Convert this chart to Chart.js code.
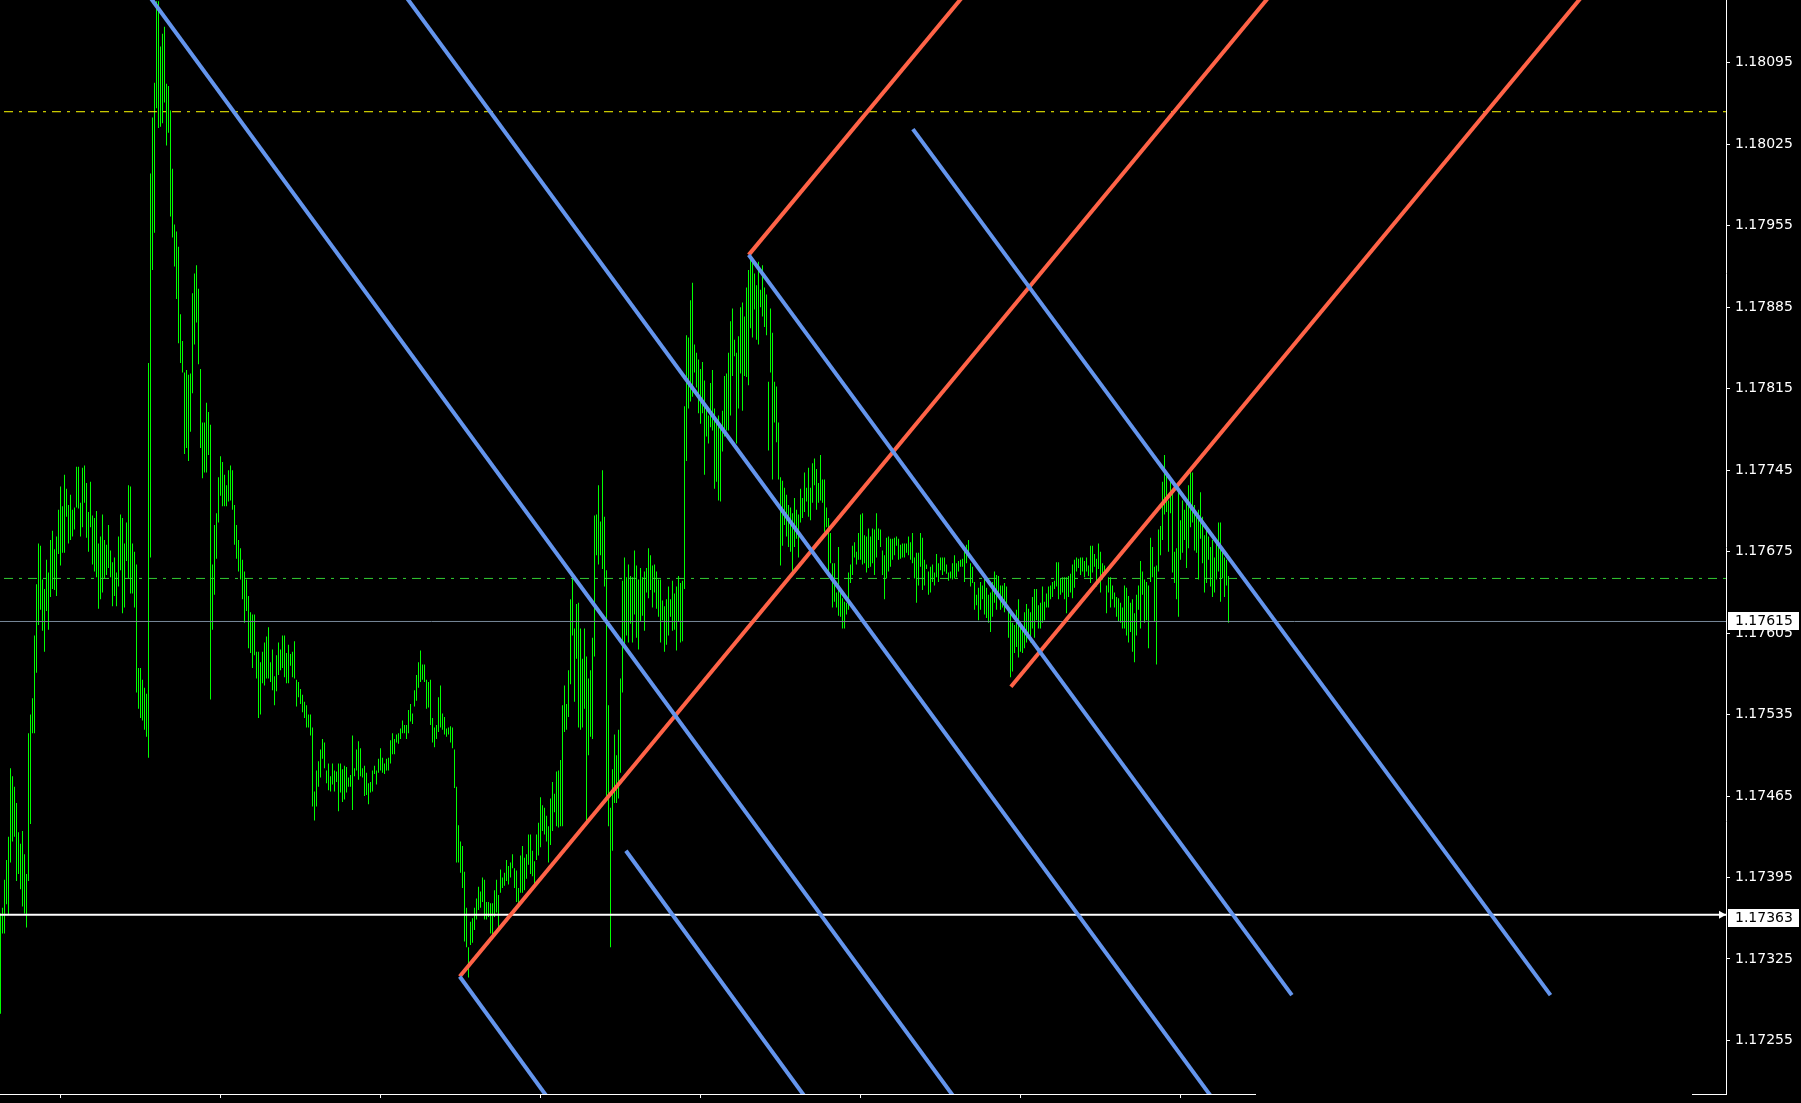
<!DOCTYPE html>
<html>
<head>
<meta charset="utf-8">
<title>EURUSD M5</title>
<script src="https://cdn.jsdelivr.net/npm/chart.js@4.4.1/dist/chart.umd.min.js"></script>
<style>
html,body{margin:0;padding:0;background:#000;overflow:hidden;}
canvas{display:block;}
</style>
</head>
<body>
<canvas id="chart" width="1801" height="1103"></canvas>
<script>
// ---------------- data ----------------
const highs = [
1.17364,1.17369,1.17393,1.17410,1.17430,1.17489,1.17482,1.17473,1.17459,1.17434,
1.17424,1.17435,1.17415,1.17398,1.17519,1.17535,1.17549,1.17603,1.17647,1.17682,
1.17680,1.17651,1.17643,1.17668,1.17657,1.17685,1.17693,1.17677,1.17688,1.17711,
1.17731,1.17714,1.17741,1.17729,1.17715,1.17724,1.17711,1.17713,1.17748,1.17748,
1.17717,1.17747,1.17749,1.17734,1.17709,1.17735,1.17706,1.17704,1.17710,1.17682,
1.17688,1.17707,1.17685,1.17681,1.17698,1.17676,1.17666,1.17670,1.17657,1.17688,
1.17707,1.17704,1.17682,1.17700,1.17732,1.17731,1.17682,1.17675,1.17664,1.17575,
1.17575,1.17565,1.17558,1.17553,1.17837,1.18000,1.18048,1.18078,1.18148,1.18148,
1.18109,1.18120,1.18126,1.18077,1.18075,1.18054,1.18004,1.17956,1.17950,1.17937,
1.17879,1.17856,1.17829,1.17831,1.17827,1.17828,1.17897,1.17914,1.17921,1.17901,
1.17832,1.17786,1.17786,1.17803,1.17795,1.17784,1.17664,1.17698,1.17708,1.17739,
1.17757,1.17752,1.17741,1.17732,1.17745,1.17749,1.17745,1.17715,1.17698,1.17685,
1.17678,1.17668,1.17658,1.17651,1.17637,1.17623,1.17621,1.17621,1.17589,1.17589,
1.17580,1.17589,1.17597,1.17602,1.17610,1.17580,1.17591,1.17568,1.17586,1.17597,
1.17591,1.17603,1.17603,1.17588,1.17595,1.17587,1.17589,1.17598,1.17565,1.17563,
1.17557,1.17552,1.17546,1.17543,1.17535,1.17535,1.17524,1.17469,1.17487,1.17495,
1.17505,1.17514,1.17511,1.17487,1.17493,1.17482,1.17493,1.17487,1.17486,1.17493,
1.17493,1.17488,1.17491,1.17490,1.17481,1.17483,1.17517,1.17489,1.17505,1.17512,
1.17506,1.17489,1.17491,1.17485,1.17476,1.17477,1.17487,1.17491,1.17487,1.17497,
1.17506,1.17498,1.17493,1.17497,1.17498,1.17513,1.17519,1.17514,1.17518,1.17519,
1.17523,1.17530,1.17526,1.17526,1.17539,1.17544,1.17536,1.17556,1.17569,1.17580,
1.17590,1.17578,1.17578,1.17565,1.17563,1.17565,1.17532,1.17524,1.17526,1.17550,
1.17560,1.17536,1.17533,1.17523,1.17524,1.17525,1.17524,1.17505,1.17473,1.17440,
1.17426,1.17422,1.17400,1.17369,1.17335,1.17357,1.17360,1.17369,1.17377,1.17387,
1.17383,1.17395,1.17393,1.17374,1.17374,1.17373,1.17373,1.17384,1.17393,1.17380,
1.17402,1.17395,1.17399,1.17410,1.17405,1.17408,1.17415,1.17403,1.17401,1.17386,
1.17414,1.17422,1.17412,1.17415,1.17432,1.17432,1.17418,1.17409,1.17432,1.17442,
1.17464,1.17457,1.17455,1.17448,1.17439,1.17463,1.17477,1.17467,1.17486,1.17487,
1.17496,1.17543,1.17560,1.17544,1.17573,1.17634,1.17652,1.17609,1.17630,1.17631,
1.17609,1.17583,1.17609,1.17585,1.17566,1.17573,1.17601,1.17706,1.17707,1.17732,
1.17701,1.17745,1.17705,1.17659,1.17543,1.17455,1.17488,1.17518,1.17500,1.17522,
1.17566,1.17650,1.17670,1.17653,1.17664,1.17654,1.17653,1.17676,1.17663,1.17651,
1.17661,1.17653,1.17658,1.17661,1.17678,1.17672,1.17663,1.17664,1.17658,1.17651,
1.17651,1.17633,1.17628,1.17634,1.17645,1.17634,1.17650,1.17639,1.17645,1.17654,
1.17648,1.17650,1.17800,1.17861,1.17859,1.17891,1.17906,1.17853,1.17846,1.17840,
1.17832,1.17838,1.17822,1.17800,1.17792,1.17820,1.17831,1.17798,1.17786,1.17792,
1.17785,1.17796,1.17826,1.17828,1.17846,1.17873,1.17884,1.17857,1.17846,1.17860,
1.17885,1.17889,1.17877,1.17902,1.17917,1.17927,1.17924,1.17914,1.17904,1.17924,
1.17900,1.17921,1.17902,1.17896,1.17821,1.17884,1.17863,1.17821,1.17817,1.17786,
1.17739,1.17736,1.17730,1.17724,1.17715,1.17713,1.17708,1.17721,1.17711,1.17707,
1.17729,1.17721,1.17743,1.17730,1.17747,1.17730,1.17751,1.17755,1.17746,1.17734,
1.17758,1.17737,1.17737,1.17713,1.17704,1.17691,1.17665,1.17665,1.17640,1.17679,
1.17640,1.17635,1.17632,1.17631,1.17657,1.17664,1.17680,1.17683,1.17675,1.17691,
1.17707,1.17708,1.17689,1.17688,1.17695,1.17688,1.17695,1.17694,1.17708,1.17695,
1.17694,1.17676,1.17672,1.17687,1.17688,1.17686,1.17686,1.17687,1.17688,1.17686,
1.17681,1.17682,1.17682,1.17682,1.17688,1.17683,1.17691,1.17670,1.17674,1.17674,
1.17691,1.17687,1.17668,1.17664,1.17658,1.17662,1.17664,1.17657,1.17673,1.17665,
1.17670,1.17670,1.17670,1.17664,1.17657,1.17658,1.17665,1.17672,1.17665,1.17667,
1.17668,1.17669,1.17677,1.17681,1.17685,1.17665,1.17662,1.17649,1.17638,1.17644,
1.17649,1.17646,1.17652,1.17644,1.17638,1.17640,1.17649,1.17658,1.17655,1.17654,
1.17646,1.17646,1.17648,1.17645,1.17627,1.17622,1.17614,1.17612,1.17625,1.17634,
1.17615,1.17609,1.17623,1.17630,1.17626,1.17623,1.17636,1.17643,1.17643,1.17629,
1.17631,1.17645,1.17632,1.17639,1.17645,1.17646,1.17649,1.17650,1.17666,1.17666,
1.17652,1.17653,1.17653,1.17653,1.17654,1.17656,1.17664,1.17668,1.17670,1.17669,
1.17670,1.17670,1.17667,1.17670,1.17663,1.17680,1.17680,1.17673,1.17669,1.17682,
1.17675,1.17665,1.17663,1.17646,1.17653,1.17653,1.17646,1.17640,1.17636,1.17635,
1.17631,1.17627,1.17646,1.17644,1.17637,1.17631,1.17634,1.17622,1.17638,1.17646,
1.17667,1.17658,1.17651,1.17649,1.17646,1.17687,1.17679,1.17662,1.17663,1.17694,
1.17697,1.17735,1.17758,1.17743,1.17719,1.17735,1.17728,1.17675,1.17678,1.17728,
1.17702,1.17719,1.17711,1.17717,1.17732,1.17745,1.17743,1.17715,1.17707,1.17711,
1.17726,1.17705,1.17689,1.17694,1.17688,1.17679,1.17685,1.17670,1.17682,1.17700,
1.17700,1.17676,1.17670,1.17668,1.17654
];
const lows = [
1.17278,1.17347,1.17347,1.17372,1.17363,1.17408,1.17426,1.17430,1.17392,1.17398,
1.17385,1.17370,1.17364,1.17352,1.17392,1.17441,1.17519,1.17519,1.17571,1.17612,
1.17625,1.17607,1.17589,1.17624,1.17608,1.17636,1.17643,1.17642,1.17637,1.17673,
1.17663,1.17674,1.17674,1.17705,1.17682,1.17685,1.17688,1.17694,1.17713,1.17712,
1.17688,1.17696,1.17717,1.17687,1.17675,1.17696,1.17664,1.17658,1.17653,1.17626,
1.17634,1.17640,1.17652,1.17655,1.17661,1.17653,1.17628,1.17637,1.17628,1.17645,
1.17659,1.17622,1.17627,1.17667,1.17652,1.17639,1.17639,1.17627,1.17554,1.17540,
1.17532,1.17530,1.17522,1.17516,1.17498,1.17670,1.17917,1.17949,1.18056,1.18039,
1.18040,1.18043,1.18061,1.18024,1.18035,1.17963,1.17945,1.17920,1.17892,1.17854,
1.17837,1.17829,1.17759,1.17764,1.17753,1.17778,1.17811,1.17853,1.17872,1.17836,
1.17764,1.17738,1.17743,1.17743,1.17758,1.17548,1.17608,1.17638,1.17669,1.17700,
1.17723,1.17714,1.17714,1.17714,1.17718,1.17719,1.17711,1.17681,1.17669,1.17658,
1.17651,1.17634,1.17614,1.17624,1.17592,1.17588,1.17575,1.17586,1.17566,1.17532,
1.17535,1.17562,1.17560,1.17566,1.17566,1.17563,1.17556,1.17543,1.17555,1.17569,
1.17573,1.17575,1.17567,1.17562,1.17562,1.17577,1.17567,1.17566,1.17542,1.17550,
1.17544,1.17537,1.17532,1.17524,1.17524,1.17517,1.17456,1.17444,1.17456,1.17473,
1.17481,1.17497,1.17489,1.17476,1.17470,1.17469,1.17475,1.17469,1.17477,1.17452,
1.17468,1.17460,1.17462,1.17468,1.17473,1.17473,1.17453,1.17482,1.17487,1.17479,
1.17482,1.17481,1.17465,1.17466,1.17458,1.17468,1.17469,1.17484,1.17475,1.17485,
1.17487,1.17485,1.17484,1.17487,1.17487,1.17493,1.17501,1.17501,1.17511,1.17510,
1.17514,1.17519,1.17519,1.17514,1.17519,1.17529,1.17527,1.17542,1.17547,1.17558,
1.17563,1.17565,1.17563,1.17540,1.17541,1.17526,1.17511,1.17507,1.17514,1.17520,
1.17524,1.17522,1.17518,1.17516,1.17518,1.17511,1.17506,1.17472,1.17408,1.17408,
1.17399,1.17386,1.17340,1.17335,1.17309,1.17337,1.17339,1.17350,1.17359,1.17367,
1.17369,1.17374,1.17359,1.17359,1.17361,1.17347,1.17343,1.17361,1.17365,1.17352,
1.17382,1.17386,1.17388,1.17392,1.17389,1.17395,1.17403,1.17386,1.17374,1.17372,
1.17382,1.17382,1.17384,1.17394,1.17406,1.17398,1.17396,1.17389,1.17410,1.17414,
1.17421,1.17435,1.17432,1.17426,1.17408,1.17423,1.17435,1.17451,1.17439,1.17438,
1.17439,1.17439,1.17520,1.17522,1.17533,1.17561,1.17603,1.17546,1.17583,1.17524,
1.17522,1.17524,1.17540,1.17443,1.17500,1.17516,1.17514,1.17585,1.17672,1.17664,
1.17672,1.17660,1.17645,1.17461,1.17439,1.17335,1.17418,1.17459,1.17459,1.17463,
1.17485,1.17554,1.17595,1.17603,1.17597,1.17613,1.17597,1.17621,1.17601,1.17591,
1.17615,1.17620,1.17607,1.17640,1.17635,1.17642,1.17627,1.17640,1.17626,1.17619,
1.17597,1.17616,1.17589,1.17595,1.17603,1.17619,1.17607,1.17608,1.17590,1.17615,
1.17597,1.17598,1.17643,1.17753,1.17798,1.17804,1.17808,1.17829,1.17816,1.17794,
1.17785,1.17794,1.17741,1.17774,1.17768,1.17782,1.17779,1.17729,1.17735,1.17719,
1.17718,1.17761,1.17774,1.17779,1.17779,1.17792,1.17826,1.17843,1.17768,1.17798,
1.17828,1.17796,1.17826,1.17825,1.17818,1.17867,1.17859,1.17883,1.17857,1.17853,
1.17885,1.17877,1.17868,1.17861,1.17762,1.17829,1.17737,1.17786,1.17769,1.17737,
1.17663,1.17680,1.17698,1.17688,1.17679,1.17675,1.17657,1.17679,1.17686,1.17670,
1.17700,1.17704,1.17709,1.17718,1.17705,1.17702,1.17717,1.17732,1.17711,1.17717,
1.17719,1.17717,1.17692,1.17696,1.17655,1.17665,1.17627,1.17632,1.17627,1.17620,
1.17619,1.17609,1.17609,1.17621,1.17625,1.17648,1.17655,1.17670,1.17664,1.17668,
1.17668,1.17664,1.17665,1.17657,1.17661,1.17662,1.17665,1.17655,1.17670,1.17685,
1.17679,1.17655,1.17634,1.17652,1.17658,1.17662,1.17668,1.17672,1.17680,1.17668,
1.17669,1.17670,1.17670,1.17674,1.17672,1.17668,1.17665,1.17652,1.17631,1.17646,
1.17662,1.17642,1.17646,1.17660,1.17638,1.17640,1.17649,1.17646,1.17653,1.17649,
1.17659,1.17655,1.17658,1.17656,1.17650,1.17652,1.17651,1.17652,1.17653,1.17658,
1.17662,1.17662,1.17649,1.17665,1.17670,1.17645,1.17648,1.17625,1.17629,1.17616,
1.17625,1.17634,1.17621,1.17618,1.17614,1.17606,1.17619,1.17631,1.17625,1.17638,
1.17625,1.17627,1.17623,1.17629,1.17601,1.17567,1.17572,1.17588,1.17593,1.17584,
1.17589,1.17588,1.17592,1.17597,1.17602,1.17597,1.17609,1.17601,1.17616,1.17609,
1.17609,1.17614,1.17616,1.17627,1.17627,1.17634,1.17636,1.17643,1.17645,1.17634,
1.17638,1.17640,1.17634,1.17622,1.17636,1.17640,1.17635,1.17644,1.17658,1.17661,
1.17655,1.17658,1.17653,1.17658,1.17654,1.17648,1.17657,1.17662,1.17645,1.17660,
1.17640,1.17651,1.17655,1.17622,1.17640,1.17627,1.17634,1.17627,1.17619,1.17615,
1.17614,1.17609,1.17609,1.17603,1.17597,1.17606,1.17589,1.17580,1.17603,1.17625,
1.17609,1.17638,1.17614,1.17616,1.17592,1.17649,1.17653,1.17615,1.17578,1.17658,
1.17672,1.17685,1.17707,1.17709,1.17675,1.17708,1.17657,1.17648,1.17634,1.17619,
1.17668,1.17674,1.17685,1.17661,1.17678,1.17696,1.17700,1.17676,1.17674,1.17651,
1.17686,1.17665,1.17640,1.17648,1.17668,1.17645,1.17636,1.17640,1.17651,1.17658,
1.17632,1.17652,1.17636,1.17646,1.17614
];

const yTickValues = [1.18095, 1.18025, 1.17955, 1.17885, 1.17815, 1.17745, 1.17675,
                     1.17605, 1.17535, 1.17465, 1.17395, 1.17325, 1.17255];
const xTickBars = [30, 110, 190, 270, 350, 430, 510, 590];
const xTickLabels = ['24 Sep 10:20', '24 Sep 17:00', '24 Sep 23:40', '25 Sep 06:20',
                     '25 Sep 13:00', '25 Sep 19:40', '26 Sep 02:20', '26 Sep 09:00'];

// trend lines: [[barIndex, price], [barIndex, price]]
const blueLines = [
  [[57.5, 1.18192], [493.5, 1.17167]],
  [[185.6, 1.18192], [622.3, 1.17167]],
  [[374.1, 1.17930], [645.7, 1.17294]],
  [[456.2, 1.18038], [775.0, 1.17294]],
  [[229.6, 1.17310], [284.5, 1.17180]],
  [[312.7, 1.17418], [419.0, 1.17167]]
];
const redLines = [
  [[374.1, 1.17930], [500.5, 1.18192]],
  [[229.6, 1.17310], [653.6, 1.18192]],
  [[505.2, 1.17559], [810.0, 1.18192]]
];

// horizontal levels and price tags
const levelPrices = [1.18053, 1.17652, 1.17615, 1.17363];
const tagPrices = [1.17615, 1.17363];

// ---------------- view / style ----------------
const X_MIN = -0.25, X_MAX = 862.75;
const Y_MIN = 1.17209, Y_MAX = 1.18149;
const AXIS_GAP = [627.75, 845.75];
const TAG_SHIFT = [0, 3];
const FONT = {family: '"DejaVu Sans", Verdana, sans-serif', size: 14};
const levelStyles = [
  {color: '#ffff00', width: 1, dash: [9, 6, 3, 6]},
  {color: '#32cd32', width: 1, dash: [9, 6, 3, 6]},
  {color: '#778899', width: 1, dash: []},
  {color: '#ffffff', width: 2, dash: []}
];

const datasets = [];
datasets.push({
  type: 'bar',
  data: highs.map((h, i) => ({x: i, y: [lows[i], h]})),
  backgroundColor: '#00ff00',
  borderWidth: 0,
  barThickness: 1,
  inflateAmount: 0,
  order: 3
});
levelPrices.forEach((p, k) => datasets.push({
  type: 'line',
  data: [{x: X_MIN, y: p}, {x: X_MAX, y: p}],
  borderColor: levelStyles[k].color,
  borderWidth: levelStyles[k].width,
  borderDash: levelStyles[k].dash,
  borderDashOffset: 20,
  pointRadius: 0,
  order: 2,
  clip: 0
}));
const addLines = (lines, color) => lines.forEach(l => datasets.push({
  type: 'line',
  data: l.map(([x, y]) => ({x, y})),
  borderColor: color,
  borderWidth: 4,
  pointRadius: 0,
  order: 1,
  clip: 0
}));
addLines(blueLines, '#6495ed');
addLines(redLines, '#ff6347');

const overlay = {
  id: 'overlay',
  afterDraw(chart) {
    const {ctx, chartArea: a, scales: {x, y}} = chart;
    ctx.save();
    // time axis line (with its gap)
    ctx.strokeStyle = '#ffffff';
    ctx.lineWidth = 1;
    const yb = Math.round(a.bottom) + 0.5;
    ctx.beginPath();
    ctx.moveTo(a.left, yb);
    ctx.lineTo(x.getPixelForValue(AXIS_GAP[0]), yb);
    ctx.moveTo(x.getPixelForValue(AXIS_GAP[1]), yb);
    ctx.lineTo(a.right + 1, yb);
    ctx.stroke();
    // price tags
    ctx.font = FONT.size + 'px ' + FONT.family;
    ctx.textBaseline = 'middle';
    ctx.textAlign = 'left';
    tagPrices.forEach((p, k) => {
      const py = Math.round(y.getPixelForValue(p)) + TAG_SHIFT[k];
      ctx.fillStyle = '#ffffff';
      ctx.fillRect(a.right + 2, py - 9, 71, 18);
      ctx.fillStyle = '#000000';
      ctx.fillText(p.toFixed(5), a.right + 9, py + 0.5);
    });
    // arrow marker at end of the white level line
    const wy = y.getPixelForValue(levelPrices[3]);
    ctx.fillStyle = '#ffffff';
    ctx.beginPath();
    ctx.moveTo(a.right - 7, wy - 4);
    ctx.lineTo(a.right, wy);
    ctx.lineTo(a.right - 7, wy + 4);
    ctx.closePath();
    ctx.fill();
    ctx.restore();
  }
};

new Chart(document.getElementById('chart'), {
  type: 'bar',
  data: {datasets},
  plugins: [overlay],
  options: {
    responsive: false,
    devicePixelRatio: 1,
    animation: false,
    events: [],
    layout: {padding: 0},
    plugins: {legend: {display: false}, tooltip: {enabled: false}},
    scales: {
      x: {
        type: 'linear',
        min: X_MIN,
        max: X_MAX,
        offset: false,
        position: 'bottom',
        border: {display: false},
        grid: {display: true, offset: false, drawOnChartArea: false, drawTicks: true, tickLength: 4, color: '#ffffff', lineWidth: 1},
        ticks: {
          color: '#ffffff', font: FONT, align: 'start', padding: 3,
          maxRotation: 0, minRotation: 0, autoSkip: false,
          callback: v => { const k = xTickBars.indexOf(v); return k >= 0 ? xTickLabels[k] : ''; }
        },
        afterBuildTicks: s => { s.ticks = xTickBars.map(v => ({value: v})); },
        afterFit: s => { s.height = 9; s.paddingLeft = 0; s.paddingRight = 0; }
      },
      y: {
        type: 'linear',
        position: 'right',
        min: Y_MIN,
        max: Y_MAX,
        border: {display: true, color: '#ffffff', width: 1},
        grid: {display: true, drawOnChartArea: false, drawTicks: true, tickLength: 4, color: '#ffffff', lineWidth: 1},
        ticks: {
          color: '#ffffff', font: FONT, padding: 5, autoSkip: false, crossAlign: 'near',
          callback: v => Number(v).toFixed(5)
        },
        afterBuildTicks: s => { s.ticks = yTickValues.map(v => ({value: v})); },
        afterFit: s => { s.width = 75; s.paddingTop = 0; s.paddingBottom = 0; }
      }
    }
  }
});
</script>
</body>
</html>
